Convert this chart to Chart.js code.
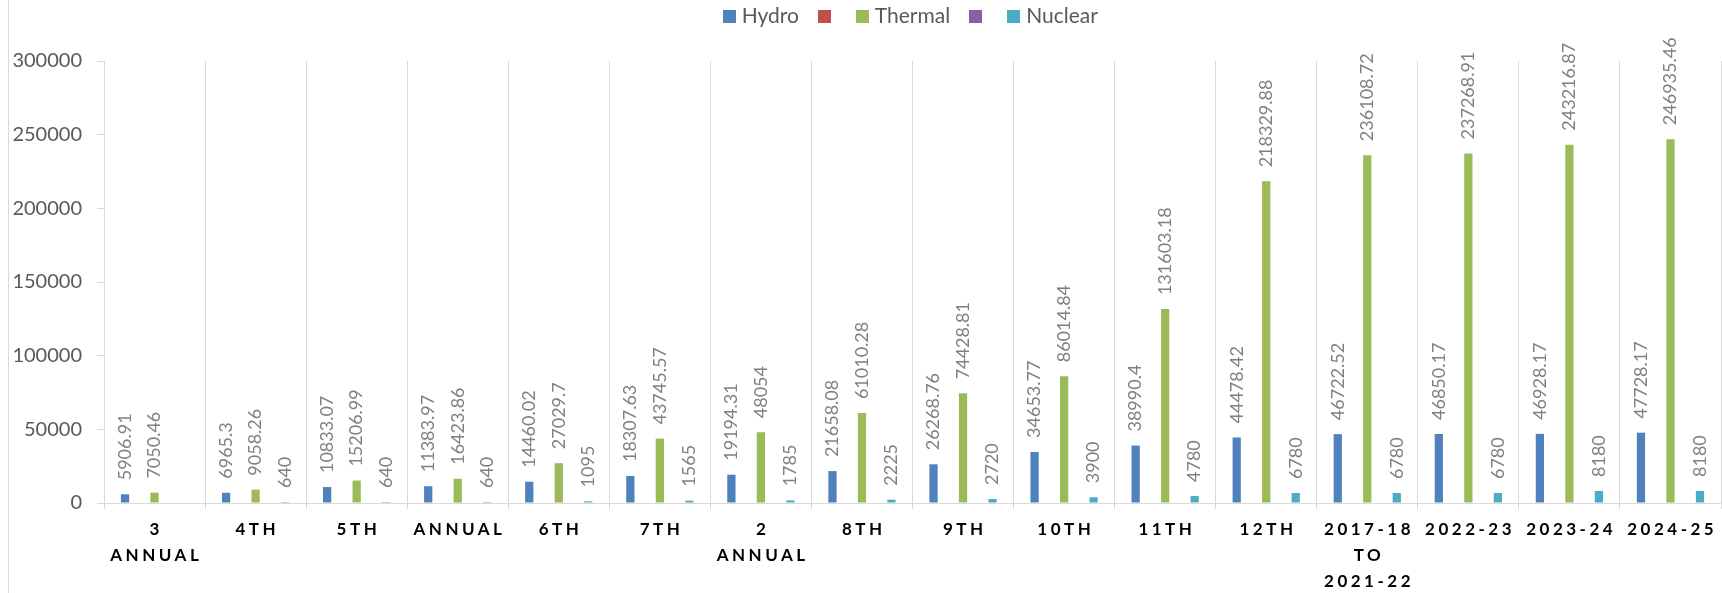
<!DOCTYPE html>
<html><head><meta charset="utf-8">
<script src="https://cdn.jsdelivr.net/npm/chart.js@4.4.1/dist/chart.umd.min.js"></script>
<style>html,body{margin:0;padding:0;background:#fff;} #wrap{width:1722px;height:593px;position:relative;}</style>
</head><body><div id="wrap"><canvas id="c" width="1722" height="593"></canvas></div>
<script>
const categories = [["3","ANNUAL"],"4TH","5TH","ANNUAL","6TH","7TH",["2","ANNUAL"],"8TH","9TH","10TH","11TH","12TH",["2017-18","TO","2021-22"],"2022-23","2023-24","2024-25"];
const hydro = [5906.91, 6965.3, 10833.07, 11383.97, 14460.02, 18307.63, 19194.31, 21658.08, 26268.76, 34653.77, 38990.4, 44478.42, 46722.52, 46850.17, 46928.17, 47728.17];
const unnamedA = [null, null, null, null, null, null, null, null, null, null, null, null, null, null, null, null];
const thermal = [7050.46, 9058.26, 15206.99, 16423.86, 27029.7, 43745.57, 48054, 61010.28, 74428.81, 86014.84, 131603.18, 218329.88, 236108.72, 237268.91, 243216.87, 246935.46];
const unnamedB = [null, null, null, null, null, null, null, null, null, null, null, null, null, null, null, null];
const nuclear = [null, 640, 640, 640, 1095, 1565, 1785, 2225, 2720, 3900, 4780, 6780, 6780, 6780, 8180, 8180];
const yTicks = [0, 50000, 100000, 150000, 200000, 250000, 300000];
const seriesColors = ['#4F81BD', '#C0504D', '#9BBB59', '#8064A2', '#4BACC6'];

const FONT = 'Lato, "Open Sans", sans-serif';

// small square swatches used as legend markers
const swatches = seriesColors.map(c => {
  const cv = document.createElement('canvas');
  cv.width = 13; cv.height = 13;
  const g = cv.getContext('2d');
  g.fillStyle = c;
  g.fillRect(0, 0, 13, 13);
  return cv;
});

const frame = {
  id: 'frame',
  beforeDraw(chart) {
    const ctx = chart.ctx;
    ctx.save();
    ctx.fillStyle = '#fff';
    ctx.fillRect(0, 0, chart.width, chart.height);
    ctx.strokeStyle = '#d9d9d9';
    ctx.lineWidth = 1;
    ctx.beginPath();
    ctx.moveTo(8.5, 0);
    ctx.lineTo(8.5, chart.height);
    ctx.stroke();
    ctx.restore();
  }
};

const valueLabels = {
  id: 'valueLabels',
  afterDatasetsDraw(chart) {
    const ctx = chart.ctx;
    ctx.save();
    ctx.font = '18px ' + FONT;
    ctx.fillStyle = '#808080';
    ctx.textAlign = 'left';
    ctx.textBaseline = 'middle';
    chart.data.datasets.forEach((ds, di) => {
      const meta = chart.getDatasetMeta(di);
      meta.data.forEach((bar, i) => {
        const v = ds.data[i];
        if (v === null || v === undefined) return;
        ctx.save();
        ctx.translate(bar.x, bar.y - 14);
        ctx.rotate(-Math.PI / 2);
        ctx.fillText(String(v), 0, 0);
        ctx.restore();
      });
    });
    ctx.restore();
  }
};

const xLabels = {
  id: 'xLabels',
  afterDraw(chart) {
    const ctx = chart.ctx, xs = chart.scales.x;
    const ls = 3.5;
    ctx.save();
    ctx.font = 'bold 17px ' + FONT;
    ctx.fillStyle = '#000';
    ctx.textAlign = 'center';
    ctx.textBaseline = 'middle';
    ctx.letterSpacing = ls + 'px';
    categories.forEach((lab, i) => {
      const lines = Array.isArray(lab) ? lab : [lab];
      const x = xs.getPixelForValue(i) + ls / 2;
      lines.forEach((t, j) => ctx.fillText(t, x, xs.top + 27 + j * 26));
    });
    ctx.restore();
  }
};

new Chart(document.getElementById('c'), {
  type: 'bar',
  data: {
    labels: categories,
    datasets: [
      { label: 'Hydro', data: hydro, backgroundColor: seriesColors[0], borderWidth: 0 },
      { label: '', data: unnamedA, backgroundColor: seriesColors[1], borderWidth: 0 },
      { label: 'Thermal', data: thermal, backgroundColor: seriesColors[2], borderWidth: 0 },
      { label: '', data: unnamedB, backgroundColor: seriesColors[3], borderWidth: 0 },
      { label: 'Nuclear', data: nuclear, backgroundColor: seriesColors[4], borderWidth: 0 }
    ]
  },
  options: {
    responsive: false,
    animation: false,
    devicePixelRatio: 1,
    categoryPercentage: 0.73,
    barPercentage: 0.56,
    layout: { padding: { top: -17.5, left: 0, right: 1, bottom: 0 } },
    plugins: {
      tooltip: { enabled: false },
      legend: {
        position: 'top',
        fullSize: false,
        labels: {
          usePointStyle: true,
          pointStyleWidth: 4,
          boxHeight: 13,
          padding: 23.5,
          color: '#595959',
          font: { family: FONT, size: 21 },
          generateLabels(chart) {
            const items = Chart.defaults.plugins.legend.labels.generateLabels(chart);
            items.forEach((it, i) => { it.pointStyle = swatches[it.datasetIndex]; it.lineWidth = 0; });
            return items;
          }
        }
      },
      title: {
        display: true, text: '', weight: 500,
        font: { size: 1, lineHeight: 1 },
        padding: { top: 0, bottom: 23 }
      }
    },
    scales: {
      x: {
        grid: { color: '#d9d9d9', lineWidth: 1, tickLength: 6, offset: true },
        border: { color: '#d9d9d9' },
        ticks: { display: false },
        afterFit(s) { s.height = 90; }
      },
      y: {
        min: 0, max: 300000,
        afterBuildTicks(s) { s.ticks = yTicks.map(v => ({ value: v })); },
        grid: { drawOnChartArea: false, drawTicks: true, tickLength: 7, color: '#d9d9d9' },
        border: { color: '#d9d9d9' },
        ticks: { color: '#595959', padding: 15, font: { family: FONT, size: 20 }, callback: v => String(v) },
        afterFit(s) { s.width = 104; }
      }
    }
  },
  plugins: [frame, valueLabels, xLabels]
});
</script>
</body></html>
